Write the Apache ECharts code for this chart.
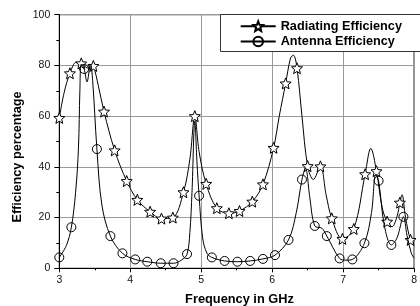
<!DOCTYPE html>
<html>
<head>
<meta charset="utf-8">
<script src="https://cdn.jsdelivr.net/npm/echarts@6/dist/echarts.min.js"></script>
<style>html,body{margin:0;padding:0;background:#fff;}#c{width:420px;height:306px;}</style>
</head>
<body>
<div id="c"></div>
<script>
// Axis ranges / ticks
const xMin = 3, xMax = 8, xStep = 1;
const yMin = 0, yMax = 100, yStep = 20;
const seriesNames = ['Radiating Efficiency', 'Antenna Efficiency'];

// Radiating efficiency: marker points (stars)
const radMarkers = [
  [3.00,59.3],[3.15,76.9],[3.31,80.8],[3.48,79.8],[3.63,61.8],[3.78,46.5],[3.95,34.4],
  [4.10,27.0],[4.28,22.3],[4.44,19.6],[4.60,20.0],[4.75,30.0],[4.91,60.0],[5.07,33.3],
  [5.22,23.7],[5.39,21.7],[5.54,22.6],[5.72,26.3],[5.87,33.1],[6.02,47.5],[6.19,72.9],
  [6.35,78.9],[6.50,40.3],[6.68,40.2],[6.84,19.7],[6.99,11.6],[7.15,15.5],[7.31,37.1],
  [7.47,38.3],[7.62,18.4],[7.80,25.9],[7.95,11.2]
];
// Radiating efficiency: other points (no marker)
const radCurve = [
  [3.07,69.5],[3.24,81.3],[3.40,79.0],[3.44,80.3],[3.55,72.0],[4.84,43.0],[4.97,46.0],
  [6.10,60.0],[6.26,83.0],[6.30,84.0],[6.42,60.0],[6.58,35.0],[6.76,29.0],[7.39,47.3],
  [7.55,24.0],[7.69,16.4],[7.76,20.5],[7.83,29.0],[7.88,20.0],[8.00,10.0]
];
// Antenna efficiency: marker points (circles)
const antMarkers = [
  [3.00,4.3],[3.17,16.2],[3.35,78.6],[3.53,47.0],[3.72,12.7],[3.89,5.9],[4.07,3.5],
  [4.24,2.6],[4.43,2.0],[4.61,2.0],[4.80,5.6],[4.97,28.6],[5.15,4.3],[5.33,2.9],
  [5.51,2.6],[5.69,2.9],[5.87,3.7],[6.04,5.2],[6.23,11.2],[6.42,35.0],[6.60,16.7],
  [6.77,12.7],[6.95,3.9],[7.13,3.5],[7.30,9.9],[7.50,34.5],[7.68,9.2],[7.85,20.3]
];
// Antenna efficiency: other points (no marker)
const antCurve = [
  [3.10,9.0],[3.23,30.0],[3.27,47.4],[3.29,70.0],[3.31,80.5],[3.39,73.5],[3.44,80.5],
  [3.47,74.0],[3.60,25.0],[4.72,3.2],[4.84,14.0],[4.87,30.0],[4.91,58.0],[4.94,42.0],
  [5.02,12.0],[5.08,6.0],[6.34,22.0],[6.47,39.5],[6.53,28.0],[6.70,15.8],[7.04,3.2],
  [7.40,22.0],[7.46,37.0],[7.58,17.0],[7.76,12.0],[7.90,13.0],[7.96,6.0],[8.00,4.0]
];

const starPath = 'path://M50 0 L62.93 32.2 L97.55 34.55 L70.92 56.8 L79.39 90.45 L50 72 L20.61 90.45 L29.08 56.8 L2.45 34.55 L37.07 32.2 Z';

function build(markers, curve) {
  const pts = markers.map(p => ({ value: p, m: true })).concat(curve.map(p => ({ value: p, m: false })));
  pts.sort((a, b) => a.value[0] - b.value[0]);
  return pts.map(p => p.m ? { value: p.value } : { value: p.value, symbol: 'none' });
}

const font = 'Liberation Sans, Arial, sans-serif';
const chart = echarts.init(document.getElementById('c'), null, { renderer: 'canvas' });
chart.setOption({
  animation: false,
  backgroundColor: '#fff',
  grid: { left: 59.3, right: 0, top: 14.7, bottom: 37.7, show: true, borderColor: '#000', borderWidth: 1 },
  xAxis: {
    type: 'value', min: xMin, max: xMax, interval: xStep,
    axisLine: { lineStyle: { color: '#000', width: 1 } },
    axisTick: { show: true, length: 4, inside: false, lineStyle: { color: '#000' } },
    minorTick: { show: true, splitNumber: 2, length: 2, lineStyle: { color: '#000' } },
    splitLine: { show: true, lineStyle: { color: '#9a9a9a', width: 1 } },
    axisLabel: { color: '#111', fontSize: 10.5, fontFamily: font, margin: 6 }
  },
  yAxis: {
    type: 'value', min: yMin, max: yMax, interval: yStep,
    axisLine: { show: true, lineStyle: { color: '#000', width: 1 } },
    axisTick: { show: true, length: 5, inside: false, lineStyle: { color: '#000' } },
    minorTick: { show: true, splitNumber: 2, length: 3, lineStyle: { color: '#000' } },
    splitLine: { show: true, lineStyle: { color: '#9a9a9a', width: 1 } },
    axisLabel: { color: '#111', fontSize: 10.5, fontFamily: font, margin: 9 }
  },
  legend: {
    orient: 'vertical', left: 220.7, top: 14.7, z: 10,
    padding: [5, 10, 5.7, 19], itemGap: 2.3, itemWidth: 35, itemHeight: 12,
    backgroundColor: 'transparent', borderWidth: 0,
    textStyle: { color: '#000', fontWeight: 'bold', fontSize: 12.7, fontFamily: font },
    data: seriesNames
  },
  graphic: [
    { type: 'rect', z: 9, shape: { x: 220.5, y: 14.5, width: 240, height: 37 }, style: { fill: '#fff', stroke: '#333', lineWidth: 1 } },
    { type: 'text', x: 239.5, y: 299, style: { text: 'Frequency in GHz', font: 'bold 12.8px ' + font, fill: '#000', align: 'center', verticalAlign: 'middle' } },
    { type: 'text', x: 17.5, y: 157, rotation: Math.PI / 2, style: { text: 'Efficiency percentage', font: 'bold 12.7px ' + font, fill: '#000', align: 'center', verticalAlign: 'middle' } }
  ],
  series: [
    {
      name: seriesNames[0], type: 'line', smooth: 0.35, showAllSymbol: true,
      symbol: starPath, symbolSize: 11,
      lineStyle: { color: '#000', width: 1 },
      itemStyle: { color: '#fff', borderColor: '#000', borderWidth: 1 },
      data: build(radMarkers, radCurve), z: 3
    },
    {
      name: seriesNames[1], type: 'line', smooth: 0.35, showAllSymbol: true,
      symbol: 'circle', symbolSize: 9,
      lineStyle: { color: '#000', width: 1 },
      itemStyle: { color: 'rgba(255,255,255,0)', borderColor: '#000', borderWidth: 1 },
      data: build(antMarkers, antCurve), z: 4
    }
  ]
});
</script>
</body>
</html>
